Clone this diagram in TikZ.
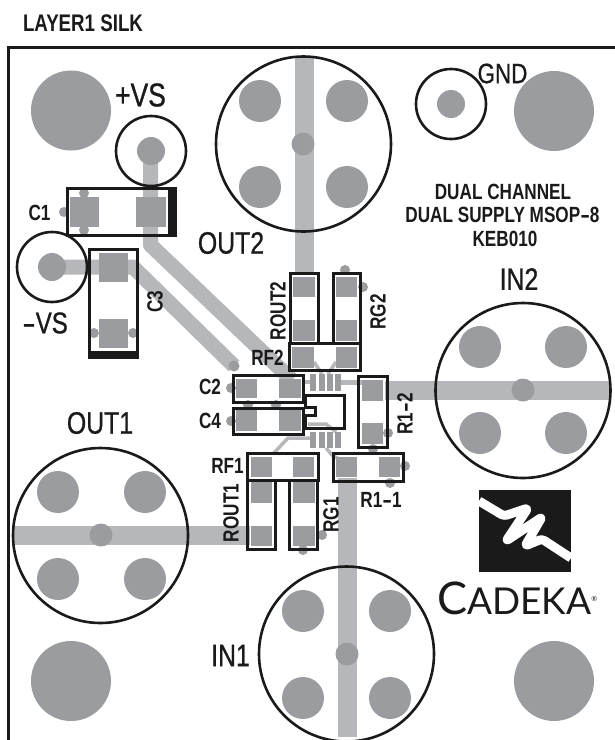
\documentclass[tikz,border=0pt]{standalone}
\usepackage{fontspec}
\setmainfont{Liberation Sans}
\newfontfamily\silkfont[FakeStretch=0.78]{Liberation Sans}
\newfontfamily\silkthick[FakeStretch=0.8,FakeBold=0.8]{Liberation Sans}
\newfontfamily\logofont{Lato}
\definecolor{padgrey}{HTML}{9B9C9F}
\definecolor{tracegrey}{HTML}{B5B7BA}
\definecolor{silkblack}{HTML}{1A1A1A}
\newcommand{\silkdash}{\scalebox{1.7}[1]{-}}
\tikzset{
  silk/.style={draw=silkblack,line width=3pt},
  ring/.style={draw=silkblack,line width=2.6pt},
  pad/.style={fill=padgrey},
  trace/.style={draw=tracegrey,line width=#1},
  trace/.default=19pt,
  via/.style={fill=padgrey},
  lbl/.style={text=silkblack,inner sep=0pt,font=\silkthick\fontsize{#1}{#1}\selectfont},
  lbl/.default=31,
  lblb/.style={text=silkblack,inner sep=0pt,font=\silkfont\bfseries\fontsize{#1}{#1}\selectfont},
  lblb/.default=22
}

\begin{document}
\begin{tikzpicture}[x=1pt,y=-1pt]
\useasboundingbox (0,0) rectangle (615,740);
\fill[white] (0,0) rectangle (615,740);

\draw[silk] (8.5,740) -- (8.5,47.5) -- (615,47.5);

\fill[pad] (71,110.5) circle (40);
\fill[pad] (554,111) circle (40);
\fill[pad] (71,681) circle (40);
\fill[pad] (554,681) circle (40);

\draw[trace] (304,57) -- (304,275);
\draw[trace] (347,478) -- (347,737);
\draw[trace] (13,535.5) -- (250,535.5);
\draw[trace] (385,390) -- (609,390);
\draw[trace=15pt,line join=round] (150.5,151) -- (150.5,245) -- (292,380);
\draw[trace=15pt,line join=round] (52,267) -- (133,267) -- (234,366);
\draw[trace=5pt] (340,382) -- (362,382);
\draw[trace=3.5pt] (273,454) -- (288,438) -- (312,438);
\draw[trace=3.5pt] (314,362) -- (322,374);
\draw[trace=3.5pt] (336,362) -- (328,374);
\draw[trace=3.5pt] (326,448) -- (332,455) -- (344,462);
\draw[trace=3.5pt] (308,424) -- (326,424) -- (336,432);
\draw[trace=3.5pt] (303,382) -- (312,382);

\draw[ring] (303.5,144) circle (87.5);
\fill[pad] (303,144) circle (11.5);
\fill[pad] (260,101) circle (21);
\fill[pad] (347,101) circle (21);
\fill[pad] (260,187) circle (21);
\fill[pad] (347,187) circle (21);

\draw[ring] (523,390.5) circle (87.5);
\fill[pad] (523,390) circle (11.5);
\fill[pad] (480,347) circle (21);
\fill[pad] (566,347) circle (21);
\fill[pad] (480,433) circle (21);
\fill[pad] (566,433) circle (21);

\draw[ring] (100.5,535.5) circle (87.5);
\fill[pad] (101,535) circle (11.5);
\fill[pad] (58,492) circle (21);
\fill[pad] (145,492) circle (21);
\fill[pad] (58,579) circle (21);
\fill[pad] (145,579) circle (21);

\draw[ring] (346.5,654) circle (87.5);
\fill[pad] (347,654) circle (11.5);
\fill[pad] (303,611) circle (21);
\fill[pad] (390,611) circle (21);
\fill[pad] (303,698) circle (21);
\fill[pad] (390,698) circle (21);

\draw[ring] (151,151) circle (35);
\fill[pad] (151,151) circle (14);
\draw[ring] (451,104) circle (35);
\fill[pad] (451,104) circle (14);
\draw[ring] (52,267) circle (35);
\fill[pad] (52,267) circle (14);

\fill[via] (64,212) circle (5);
\fill[via] (84,193) circle (5);
\fill[via] (84,230) circle (5);
\fill[via] (94,333) circle (5);
\fill[via] (133,333) circle (5);
\fill[via] (234,366) circle (5.5);
\fill[via] (231,388) circle (5);
\fill[via] (231,421) circle (5);
\fill[via] (248,405) circle (5);
\fill[via] (276,405) circle (5);
\fill[via] (345,270) circle (5);
\fill[via] (363,287) circle (5);
\fill[via] (388,433) circle (5);
\fill[via] (373,449) circle (5);
\fill[via] (405,466) circle (5);
\fill[via] (390,483) circle (5);
\fill[via] (322,535) circle (5);
\fill[via] (303,550) circle (5);

\fill[pad] (70,197) rectangle (99,227);
\fill[pad] (136,197) rectangle (166,227);
\fill[pad] (99,253) rectangle (128,282);
\fill[pad] (99,319) rectangle (128,348);
\fill[pad] (236,379) rectangle (257,398);
\fill[pad] (279,379) rectangle (301,398);
\fill[pad] (236,410) rectangle (257,431);
\fill[pad] (279,410) rectangle (301,431);
\fill[pad] (293,277) rectangle (315,297);
\fill[pad] (293,320) rectangle (315,341);
\fill[pad] (336,277) rectangle (357,297);
\fill[pad] (336,320) rectangle (357,341);
\fill[pad] (292,347) rectangle (314,368);
\fill[pad] (336,347) rectangle (357,368);
\fill[pad] (362,380) rectangle (383,401);
\fill[pad] (362,423) rectangle (383,444);
\fill[pad] (336,457) rectangle (357,477);
\fill[pad] (379,457) rectangle (400,477);
\fill[pad] (251,457) rectangle (272,477);
\fill[pad] (293,457) rectangle (314,477);
\fill[pad] (251,482) rectangle (272,503);
\fill[pad] (251,526) rectangle (272,546);
\fill[pad] (293,482) rectangle (315,503);
\fill[pad] (293,526) rectangle (315,546);

\fill[pad] (310,374) rectangle (316,391);
\fill[pad] (319,374) rectangle (325,391);
\fill[pad] (327,374) rectangle (333,391);
\fill[pad] (335,374) rectangle (341,391);
\fill[pad] (310,432) rectangle (316,448);
\fill[pad] (319,432) rectangle (325,448);
\fill[pad] (327,432) rectangle (333,448);
\fill[pad] (335,432) rectangle (341,448);

\draw[silk] (67,188) rectangle (175,235);
\fill[silkblack] (168,187) rectangle (176,236);
\draw[silk] (89,249) rectangle (137,357);
\fill[silkblack] (88,351) rectangle (138,358);
\draw[silk] (233,375) rectangle (303,402);
\draw[silk] (233,408) rectangle (303,434);
\draw[silk] (290,273) rectangle (318,343);
\draw[silk] (333,273) rectangle (360,343);
\draw[silk] (289,343) rectangle (360,370);
\draw[silk] (358,376) rectangle (387,447);
\draw[silk] (333,453) rectangle (403,481);
\draw[silk] (247,453) rectangle (318,480);
\draw[silk] (247,480) rectangle (275,549);
\draw[silk] (289,480) rectangle (317,549);
\draw[silk] (305,395) -- (344,395) -- (344,428) -- (305,428) -- (305,415) -- (315,415) -- (315,407) -- (305,407) -- cycle;

\fill[silkblack] (479,490) rectangle (571,572);
\draw[white,line width=9pt,line join=round,rounded corners=3pt] (479,501) -- (504,516) -- (528,508) -- (506,541) -- (542,517) -- (525,546) -- (542,539) -- (571,558);

\node[lblb=24] (layer) at (83,23) {LAYER1 SILK};
\node[lbl=33,anchor=west] (vsplus) at (115,95) {+VS};
\node[lbl=28] (gnd) at (502.5,73.5) {GND};
\node[lbl=30] (vsminus) at (45,323) {\silkdash VS};
\node[lbl] (out2) at (231,243) {OUT2};
\node[lbl] (out1) at (100,423) {OUT1};
\node[lbl=31] (in2) at (519,279) {IN2};
\node[lbl=31] (in1) at (230.5,655.5) {IN1};
\node[lblb] (title1) at (503,192) {DUAL CHANNEL};
\node[lblb] (title2) at (502.5,215) {DUAL SUPPLY MSOP\silkdash 8};
\node[lblb] (title3) at (505,239) {KEB010};
\node[lblb] (c1) at (39.5,212.5) {C1};
\node[lblb,rotate=90] (c3) at (155,302) {C3};
\node[lblb] (c2) at (210,387) {C2};
\node[lblb] (c4) at (210,421) {C4};
\node[lblb] (rf2) at (267.5,358) {RF2};
\node[lblb] (rf1) at (227.5,466) {RF1};
\node[lblb,rotate=90] (rout2) at (278,311) {ROUT2};
\node[lblb,rotate=90] (rg2) at (378,312) {RG2};
\node[lblb,rotate=90] (r12) at (405,414) {R1\silkdash 2};
\node[lblb] (r11) at (381,500) {R1\silkdash 1};
\node[lblb,rotate=90] (rout1) at (231,513) {ROUT1};
\node[lblb,rotate=90] (rg1) at (331,515) {RG1};

\node[anchor=base west,inner sep=0pt,text=silkblack] (cadeka) at (437,614) {\logofont\fontsize{45}{45}\selectfont C\fontsize{37}{37}\selectfont ADEKA\raisebox{13pt}{\fontsize{7}{7}\selectfont ®}};
\end{tikzpicture}
\end{document}
